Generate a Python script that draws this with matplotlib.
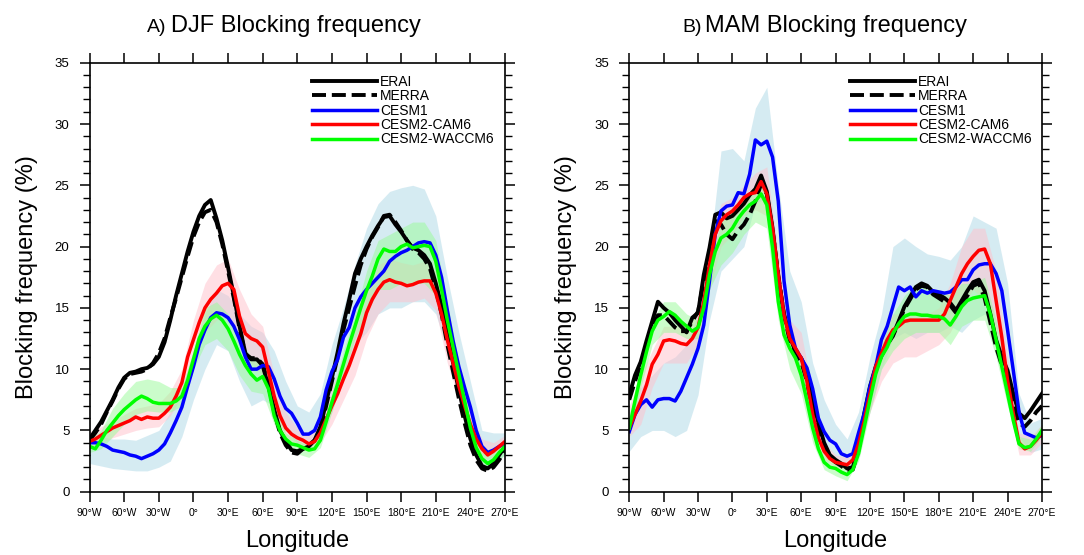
import numpy as np
import matplotlib
matplotlib.use("Agg")
import matplotlib.pyplot as plt
from matplotlib.ticker import MultipleLocator

plt.rcParams['font.family'] = ['Liberation Sans', 'DejaVu Sans']

# longitude grid of the curves (5 deg) and of the spread bands (10 deg)
lon = np.arange(-90, 271, 5)
lon_band = np.arange(-90, 271, 10)

# ---------------- DJF ----------------
djf_erai = [4.3, 5.0, 5.7, 6.6, 7.5, 8.5, 9.3, 9.7, 9.8, 10.0,
            10.1, 10.4, 11.0, 12.2, 14.0, 16.0, 17.8, 19.6, 21.2, 22.5,
            23.4, 23.8, 22.3, 20.5, 18.3, 16.0, 13.5, 11.3, 10.8, 10.8,
            10.3, 8.6, 6.7, 5.0, 4.1, 3.4, 3.3, 3.5, 3.7, 4.2,
            5.3, 7.3, 9.3, 11.4, 13.7, 15.7, 17.8, 19.0, 20.0, 20.9,
            21.7, 22.4, 22.5, 21.8, 21.2, 20.5, 19.9, 19.7, 19.3, 18.6,
            17.0, 15.2, 12.8, 10.5, 8.3, 6.2, 4.3, 3.0, 2.1, 1.9,
            2.3, 3.0, 3.7]
djf_merra = [4.2, 4.8, 5.5, 6.5, 7.4, 8.4, 9.2, 9.6, 9.7, 9.8,
             10.0, 10.5, 11.3, 12.5, 14.2, 15.8, 17.5, 19.2, 20.8, 22.0,
             22.8, 23.0, 22.0, 20.2, 18.0, 15.8, 13.3, 11.2, 10.9, 10.9,
             10.4, 8.8, 6.5, 4.8, 3.8, 3.2, 3.1, 3.5, 3.8, 4.2,
             5.0, 7.0, 9.0, 11.0, 13.2, 15.0, 16.8, 18.5, 19.8, 20.8,
             21.6, 22.5, 22.6, 22.0, 21.3, 20.5, 19.8, 19.5, 19.0, 18.2,
             16.5, 14.5, 12.0, 9.8, 7.6, 5.6, 3.8, 2.6, 1.9, 1.7,
             2.0, 2.6, 3.4]
djf_cesm1 = [4.0, 4.0, 3.9, 3.7, 3.4, 3.3, 3.2, 3.0, 2.9, 2.7,
             2.9, 3.1, 3.4, 3.9, 4.8, 5.8, 6.9, 8.6, 10.2, 12.0,
             13.2, 14.2, 14.6, 14.5, 14.2, 13.5, 12.4, 11.0, 10.0, 10.0,
             10.3, 10.2, 9.2, 7.8, 6.8, 6.4, 5.6, 4.7, 4.7, 5.0,
             6.1, 8.3, 9.8, 10.8, 12.6, 13.4, 15.0, 15.9, 16.5, 17.0,
             17.5, 18.0, 18.8, 19.2, 19.5, 19.7, 20.0, 20.3, 20.4, 20.3,
             19.3, 17.5, 14.8, 12.3, 10.2, 8.5, 6.9, 5.0, 3.7, 3.2,
             3.4, 3.7, 4.0]
djf_cam6 = [4.1, 4.3, 4.6, 4.9, 5.2, 5.4, 5.6, 5.8, 6.1, 5.9,
            6.1, 6.0, 6.0, 6.4, 6.9, 7.8, 8.9, 11.0, 12.4, 13.8,
            15.0, 15.7, 16.2, 16.8, 17.0, 16.5, 14.3, 12.9, 12.5, 12.3,
            11.8, 9.8, 7.8, 6.2, 5.2, 4.7, 4.4, 4.2, 3.9, 4.1,
            4.8, 5.9, 7.0, 8.0, 9.2, 10.3, 11.6, 12.9, 14.6, 15.7,
            16.5, 17.1, 17.3, 17.1, 17.0, 16.8, 16.9, 17.1, 17.2, 17.2,
            16.2, 14.5, 12.4, 10.5, 8.6, 7.0, 5.5, 4.3, 3.5, 3.0,
            3.3, 3.7, 4.1]
djf_waccm6 = [3.7, 3.5, 4.2, 5.0, 5.6, 6.2, 6.7, 7.1, 7.5, 7.8,
              7.6, 7.3, 7.2, 7.2, 7.2, 7.4, 7.8, 9.1, 10.8, 12.5,
              13.5, 14.1, 14.4, 14.0, 13.3, 12.3, 11.2, 10.3, 9.6, 9.1,
              9.4, 8.4, 6.2, 5.0, 4.3, 3.9, 3.8, 3.6, 3.4, 3.5,
              4.2, 5.7, 7.3, 8.8, 10.4, 12.0, 13.5, 15.0, 16.4, 17.6,
              19.0, 19.8, 19.6, 19.6, 20.0, 20.2, 19.9, 20.0, 20.1, 20.0,
              18.8, 16.5, 14.0, 11.8, 9.6, 7.4, 5.2, 3.6, 2.7, 2.3,
              2.6, 3.2, 3.7]

djf_cesm1_lo = [2.3, 2.1, 1.9, 1.8, 1.7, 1.7, 2.0, 2.5, 4.5, 7.5,
                10.0, 12.0, 11.5, 9.0, 7.0, 7.5, 7.0, 5.2, 3.8,
                3.5, 4.5, 6.5, 9.5, 12.0, 13.0, 14.5, 15.0, 15.0,
                15.5, 15.5, 14.5, 11.5, 8.0, 4.5, 2.0, 2.3, 3.0]
djf_cesm1_hi = [4.8, 4.5, 4.3, 4.3, 4.2, 4.6, 5.0, 6.5, 8.5, 11.5,
                14.5, 16.5, 16.0, 14.5, 13.5, 13.0, 11.5, 9.0, 7.0,
                6.5, 8.0, 12.0, 15.0, 18.5, 21.5, 23.5, 24.5, 24.8,
                25.0, 24.7, 22.5, 17.5, 13.0, 9.0, 5.0, 4.8, 4.8]
djf_cam6_lo = [3.6, 4.0, 4.4, 4.7, 5.0, 5.2, 5.3, 6.2, 7.8, 11.0,
               13.0, 14.0, 14.5, 12.0, 10.5, 9.5, 6.5, 4.5, 3.8,
               3.4, 4.0, 5.5, 7.5, 9.5, 12.5, 14.5, 15.5, 15.5,
               15.5, 15.8, 14.8, 10.5, 7.5, 4.5, 2.7, 2.8, 3.6]
djf_cam6_hi = [4.9, 5.3, 5.8, 6.3, 6.8, 7.0, 7.2, 8.2, 10.0, 14.0,
               17.0, 18.5, 19.0, 16.5, 14.5, 13.5, 9.5, 6.5, 5.2,
               4.6, 6.0, 8.5, 11.0, 13.5, 16.5, 18.5, 19.0, 18.7,
               18.5, 18.8, 18.0, 14.0, 10.0, 6.5, 4.3, 4.0, 4.6]
djf_waccm6_lo = [3.2, 3.5, 4.5, 5.5, 6.3, 6.6, 6.5, 6.5, 7.0, 10.0,
                 12.0, 12.5, 11.5, 9.5, 8.2, 8.0, 5.5, 3.6, 3.1,
                 2.8, 3.6, 6.5, 9.5, 12.5, 14.5, 16.5, 16.5, 17.0,
                 17.0, 17.0, 16.0, 12.5, 8.5, 4.5, 2.0, 2.0, 3.1]
djf_waccm6_hi = [4.2, 5.0, 6.8, 8.0, 9.0, 9.2, 9.0, 8.5, 8.5, 11.5,
                 15.0, 15.5, 14.5, 12.5, 11.0, 10.5, 7.5, 4.8, 4.2,
                 3.8, 4.8, 8.0, 11.5, 14.5, 18.0, 20.5, 21.0, 21.5,
                 22.0, 22.0, 20.5, 15.5, 10.5, 5.8, 3.2, 3.2, 4.2]

# ---------------- MAM ----------------
mam_erai = [7.9, 9.5, 10.6, 12.3, 13.9, 15.5, 15.0, 14.6, 14.0, 13.5,
            13.0, 14.2, 14.6, 17.7, 19.9, 22.6, 22.8, 22.3, 22.5, 23.0,
            23.5, 24.2, 24.7, 25.8, 24.5, 21.5, 17.5, 14.5, 12.7, 11.4,
            10.9, 9.8, 7.5, 5.6, 4.0, 3.0, 2.6, 2.3, 1.9, 2.0,
            3.7, 6.4, 8.6, 10.2, 11.3, 12.1, 12.8, 13.9, 15.1, 15.9,
            16.7, 17.0, 16.8, 16.3, 16.1, 15.8, 15.4, 14.8, 15.6, 16.4,
            17.1, 17.3, 16.4, 14.5, 12.4, 11.0, 9.9, 8.0, 6.4, 6.0,
            6.6, 7.3, 8.0]
mam_merra = [7.5, 9.0, 10.4, 12.0, 13.4, 14.4, 14.4, 13.9, 13.4, 13.1,
             13.1, 13.9, 14.7, 17.2, 19.6, 22.1, 21.8, 21.0, 20.6, 21.3,
             21.8, 22.6, 23.7, 25.1, 24.3, 21.3, 17.7, 14.4, 12.3, 11.4,
             10.6, 9.0, 6.5, 4.9, 3.7, 2.8, 2.4, 2.1, 1.7, 1.8,
             3.4, 6.0, 8.3, 10.0, 11.1, 12.0, 12.7, 13.8, 14.9, 15.7,
             16.5, 16.8, 16.7, 16.1, 15.8, 15.5, 15.2, 14.6, 15.3, 16.0,
             16.8, 17.0, 15.8, 13.8, 11.8, 10.3, 9.0, 7.2, 5.6, 5.3,
             5.8, 6.5, 7.0]
mam_cesm1 = [4.9, 6.3, 7.1, 7.5, 6.9, 7.5, 7.6, 7.6, 7.4, 8.2,
             9.3, 10.4, 11.7, 13.6, 17.2, 21.0, 22.9, 23.3, 23.4, 24.4,
             24.3, 25.9, 28.7, 28.3, 28.6, 27.3, 23.7, 17.2, 13.6, 11.7,
             10.9, 10.1, 8.4, 6.0, 4.9, 4.2, 3.9, 3.1, 2.9, 3.1,
             4.8, 6.4, 8.6, 10.2, 12.4, 13.5, 15.1, 16.7, 16.4, 16.7,
             15.9, 16.4, 16.2, 16.4, 16.3, 16.2, 16.3, 16.7, 17.3, 17.3,
             18.1, 18.5, 18.6, 18.6, 17.8, 16.4, 13.2, 9.9, 6.5, 4.8,
             4.6, 4.4, 4.6]
mam_cam6 = [5.2, 6.3, 7.4, 8.7, 10.4, 11.2, 12.3, 12.4, 12.3, 12.1,
            12.0, 12.5, 13.4, 15.5, 18.5, 21.0, 22.1, 22.6, 22.9, 23.4,
            24.0, 24.3, 24.4, 25.3, 24.3, 21.5, 17.7, 14.4, 12.5, 11.7,
            10.9, 9.0, 6.3, 4.4, 3.3, 2.7, 2.4, 2.3, 2.2, 2.6,
            3.9, 5.8, 8.0, 10.2, 11.3, 12.4, 13.2, 13.5, 13.9, 14.0,
            14.0, 14.0, 14.0, 14.0, 14.0, 14.5, 15.6, 16.7, 17.8, 18.6,
            19.2, 19.7, 19.8, 18.6, 15.6, 12.6, 9.1, 6.4, 4.0, 3.5,
            3.7, 4.2, 4.8]
mam_waccm6 = [5.2, 7.4, 9.5, 11.4, 13.1, 14.0, 14.3, 14.7, 14.4, 13.9,
              13.5, 13.1, 13.4, 15.0, 17.7, 19.6, 20.7, 21.0, 21.5, 22.3,
              22.9, 23.4, 23.7, 24.3, 23.4, 19.9, 15.5, 12.8, 11.7, 10.9,
              9.5, 7.4, 5.2, 3.5, 2.4, 2.0, 1.9, 1.6, 1.4, 1.8,
              3.1, 5.3, 7.5, 9.6, 11.0, 11.8, 12.9, 13.7, 14.3, 14.5,
              14.5, 14.4, 14.4, 14.3, 14.3, 14.1, 13.6, 14.3, 15.1, 15.6,
              15.8, 15.9, 16.0, 14.5, 12.4, 10.2, 8.0, 5.8, 3.9, 3.6,
              3.7, 4.3, 5.0]

mam_cesm1_lo = [3.3, 4.5, 5.0, 5.0, 4.5, 5.0, 7.9, 14.0, 18.0, 19.0,
                20.0, 23.5, 24.0, 19.0, 12.0, 9.5, 6.5, 4.0, 2.8,
                2.2, 3.5, 6.5, 10.0, 12.5, 13.0, 12.5, 13.0, 13.0,
                13.5, 13.0, 14.0, 14.5, 13.5, 10.0, 4.5, 3.2, 3.5]
mam_cesm1_hi = [6.5, 8.5, 9.5, 10.5, 11.0, 12.0, 14.5, 19.5, 27.8, 28.0,
                27.0, 31.3, 33.0, 25.0, 18.0, 15.5, 10.5, 7.5, 5.5,
                4.3, 6.5, 11.0, 14.5, 20.0, 20.7, 20.0, 19.4, 19.2,
                18.9, 20.0, 22.5, 22.0, 21.5, 17.0, 8.0, 5.6, 6.0]
mam_cam6_lo = [4.5, 5.5, 8.5, 10.5, 10.5, 10.5, 12.0, 16.5, 20.0, 21.0,
               22.5, 23.0, 22.5, 16.0, 11.5, 9.5, 5.5, 2.6, 2.0,
               1.8, 3.3, 6.5, 9.0, 10.5, 11.0, 11.0, 11.5, 12.0,
               13.0, 15.0, 16.5, 15.5, 13.0, 7.5, 3.0, 3.0, 4.0]
mam_cam6_hi = [7.0, 9.5, 11.5, 13.5, 13.5, 13.5, 14.5, 20.0, 23.5, 24.0,
               25.0, 26.0, 26.5, 19.5, 14.0, 13.0, 8.0, 4.0, 3.0,
               2.8, 4.8, 9.5, 13.0, 14.5, 14.5, 14.5, 14.5, 15.0,
               17.0, 20.0, 21.5, 21.5, 18.0, 11.0, 4.8, 4.5, 5.5]
mam_waccm6_lo = [4.5, 8.5, 12.0, 13.0, 13.0, 12.5, 12.5, 16.5, 18.5, 19.5,
                 21.0, 22.0, 21.5, 14.0, 10.0, 8.0, 4.0, 1.8, 1.3,
                 0.9, 2.5, 6.5, 10.0, 11.5, 12.5, 13.0, 13.0, 13.0,
                 12.0, 13.5, 14.0, 14.0, 11.0, 7.0, 3.5, 3.3, 4.5]
mam_waccm6_hi = [6.0, 10.5, 14.0, 15.5, 15.5, 14.5, 14.0, 18.5, 22.0, 23.0,
                 24.0, 25.0, 25.0, 17.0, 13.0, 11.0, 6.0, 3.0, 2.3,
                 2.0, 3.8, 8.5, 12.0, 14.5, 16.0, 17.0, 16.5, 16.5,
                 16.0, 17.0, 17.0, 17.5, 14.0, 9.0, 4.5, 4.3, 5.5]

xtick_vals = np.arange(-90, 271, 30)
xtick_labels = ['90°W', '60°W', '30°W', '0°', '30°E', '60°E', '90°E',
                '120°E', '150°E', '180°E', '210°E', '240°E', '270°E']
names = ['ERAI', 'MERRA', 'CESM1', 'CESM2-CAM6', 'CESM2-WACCM6']


def draw_panel(ax, lines, bands, ylab_x):
    erai, merra, cesm1, cam6, waccm6 = lines
    band_cols = ['lightblue', 'pink', 'palegreen']
    for (lo, hi), col in zip(bands, band_cols):
        ax.fill_between(lon_band, lo, hi, color=col, alpha=0.5, lw=0)

    # observations first, models on top
    ax.plot(lon, erai, color='black', lw=2.8, label=names[0])
    ax.plot(lon, merra, color='black', lw=2.8, ls=(0, (3.6, 1.5)),
            label=names[1])
    ax.plot(lon, cesm1, color='#0000ff', lw=2.5, label=names[2])
    ax.plot(lon, cam6, color='#ff0000', lw=2.5, label=names[3])
    ax.plot(lon, waccm6, color='#00ff00', lw=2.5, label=names[4])

    ax.set_xlim(-90, 270)
    ax.set_ylim(0, 35)
    ax.set_xticks(xtick_vals)
    ax.set_xticklabels(xtick_labels, fontsize=7.5)
    ax.set_yticks(np.arange(0, 36, 5))
    ax.yaxis.set_minor_locator(MultipleLocator(1))
    ax.tick_params(axis='x', which='major', direction='out', length=7.5,
                   width=1.1, top=True, pad=4)
    ax.tick_params(axis='y', which='major', direction='out', length=7.5,
                   width=1.1, right=True, labelsize=9.5, pad=7)
    ax.tick_params(axis='y', which='minor', direction='out', length=5,
                   width=1.0, right=True)
    for sp in ax.spines.values():
        sp.set_linewidth(1.2)

    ax.set_xlabel('Longitude', fontsize=17)
    ax.xaxis.set_label_coords(0.5, -0.09)
    ax.set_ylabel('Blocking frequency (%)', fontsize=17)
    ax.yaxis.set_label_coords(ylab_x, 0.5)

    ax.legend(loc='upper left', bbox_to_anchor=(0.535, 0.972),
              frameon=False, fontsize=10, handlelength=4.7,
              handletextpad=0.2, labelspacing=0.03, borderpad=0,
              borderaxespad=0)


fig = plt.figure(figsize=(10.84, 5.55), dpi=100)
ax1 = fig.add_axes([0.0826, 0.114, 0.3833, 0.773])
ax2 = fig.add_axes([0.5805, 0.114, 0.3807, 0.773])

draw_panel(ax1, [djf_erai, djf_merra, djf_cesm1, djf_cam6, djf_waccm6],
           [(djf_cesm1_lo, djf_cesm1_hi), (djf_cam6_lo, djf_cam6_hi),
            (djf_waccm6_lo, djf_waccm6_hi)], -0.124)
draw_panel(ax2, [mam_erai, mam_merra, mam_cesm1, mam_cam6, mam_waccm6],
           [(mam_cesm1_lo, mam_cesm1_hi), (mam_cam6_lo, mam_cam6_hi),
            (mam_waccm6_lo, mam_waccm6_hi)], -0.127)

# panel titles
fig.text(166 / 1084, 1 - 32 / 555, 'A)', fontsize=14, ha='right',
         va='baseline')
fig.text(171 / 1084, 1 - 32 / 555, 'DJF Blocking frequency', fontsize=17,
         ha='left', va='baseline')
fig.text(702 / 1084, 1 - 32 / 555, 'B)', fontsize=14, ha='right',
         va='baseline')
fig.text(705 / 1084, 1 - 32 / 555, 'MAM Blocking frequency', fontsize=17,
         ha='left', va='baseline')

fig.savefig('out.png', dpi=100)
